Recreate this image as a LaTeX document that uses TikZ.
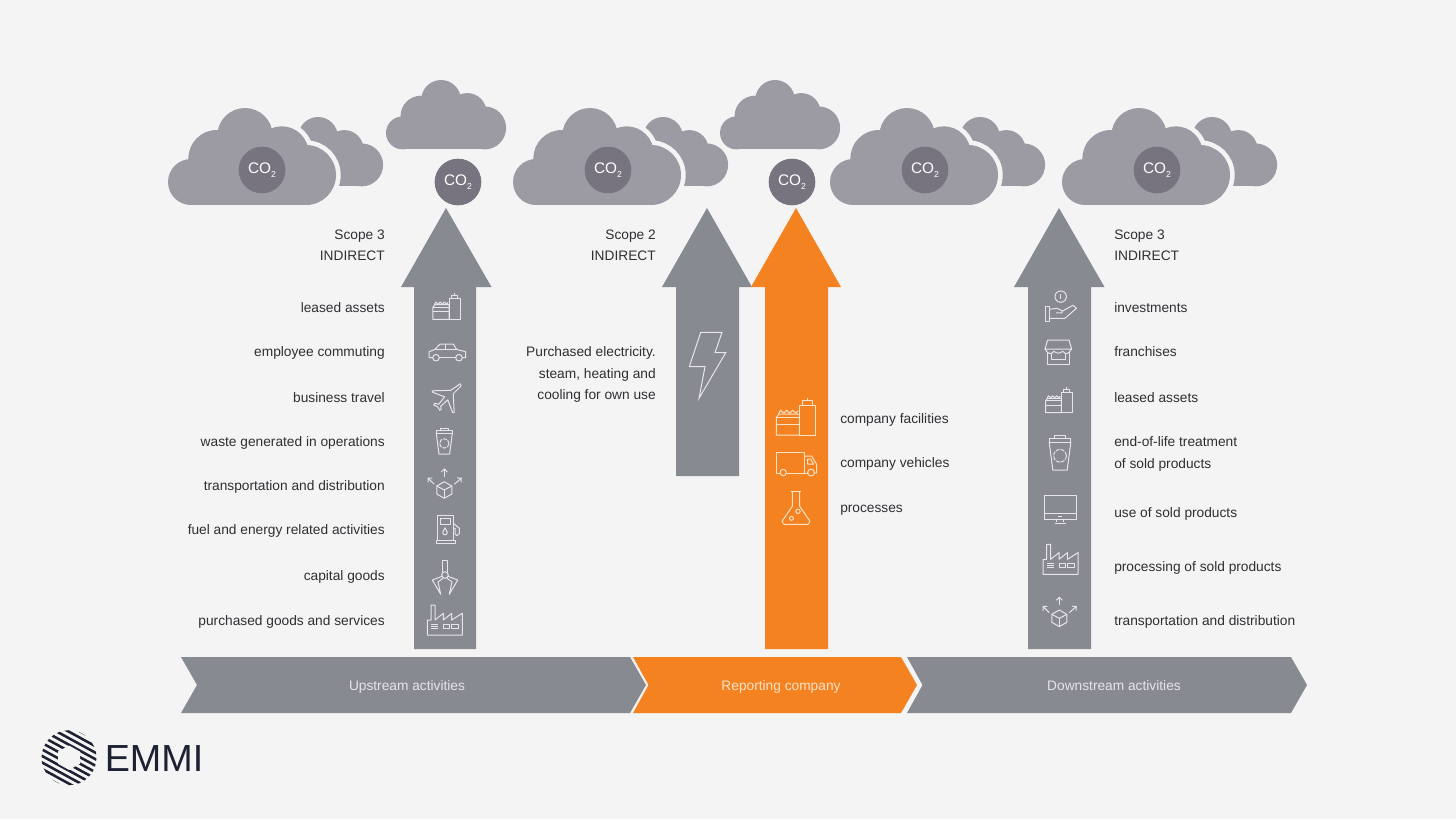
\documentclass[tikz,border=0pt]{standalone}
\usepackage{fontspec}
\setmainfont{Liberation Sans}
\usetikzlibrary{arrows.meta,calc}
\definecolor{bgc}{HTML}{F4F4F4}
\definecolor{arrowgrey}{HTML}{878A91}
\definecolor{cloudc}{HTML}{9C9AA2}
\definecolor{coc}{HTML}{777480}
\definecolor{orangec}{HTML}{F58220}
\definecolor{textc}{HTML}{2F2F34}
\definecolor{iconc}{HTML}{E6E6EA}
\definecolor{iconoc}{HTML}{FBE3C8}
\definecolor{logoc}{HTML}{1E2133}
\tikzset{
  lbl/.style={text=textc,font=\fontsize{10.3}{12}\selectfont,inner sep=0pt,yshift=-3.75pt},
  lblr/.style={lbl,anchor=base east},
  lbll/.style={lbl,anchor=base west},
  bandlbl/.style={text=#1,font=\fontsize{10.3}{12}\selectfont,inner sep=0pt,anchor=base,yshift=-3.75pt},
  coball/.style={circle,fill=coc,minimum size=35pt,inner sep=0pt,text=white,font=\fontsize{11.5}{12}\selectfont},
}
\newcommand{\COtwo}{CO\raisebox{-2.5pt}{\fontsize{6.5}{7}\selectfont 2}}
% cloud: local 168x97 box
\newcommand{\cloudparts}[1]{%
  \path[#1] (23,74) circle[radius=23];
  \path[#1] (48.7,50.3) circle[radius=28.3];
  \path[#1] (77,27.7) circle[radius=27.7];
  \path[#1] (113.7,45.3) circle[radius=27];
  \path[#1] (138,67) circle[radius=30];
  \path[#1] (23,60) rectangle (138,97);
  \path[#1] (48.7,27) rectangle (113.7,97);
}
\newcommand{\scloud}[2]{\begin{scope}[shift={(#1,#2)},scale=.715]\cloudparts{fill=cloudc}\end{scope}}
\newcommand{\bcloud}[2]{%
  \scloud{#1+95}{#2+9}
  \begin{scope}[shift={(#1,#2)}]\cloudparts{draw=bgc,line width=7pt}\cloudparts{fill=cloudc}\end{scope}}
\newcommand{\icstart}[4]{\begin{scope}[shift={(#1,#2)},scale=#3,color=#4,line width=.75pt,line join=round]}
% icons
\newcommand{\icFac}[4]{\icstart{#1}{#2}{#3}{#4}
  \draw (-19.7,1) -- (-17,-2.7) -- (3.3,-2.7) -- (3.3,18.3) -- (-19.7,18.3) -- cycle;
  \draw (-19.7,1) -- (3.3,1);
  \draw (-19.7,7.3) -- (3.3,7.3);
  \draw (-17.5,-3) -- (-15.5,-6.5) -- (-12,-3.5) -- (-9.5,-6.5) -- (-6,-3.5) -- (-3.5,-6.5) -- (0,-3.5) -- (2,-6);
  \draw (3.3,-11) rectangle (19.7,18.3);
  \draw (6.7,-11) -- (6.7,-16) -- (16,-16) -- (16,-11);
  \draw (11.7,-16) -- (11.7,-19);
\end{scope}}
\newcommand{\icTruck}[4]{\icstart{#1}{#2}{#3}{#4}
  \draw (-16.5,10) -- (-20,10) -- (-20,-10.7) -- (8.3,-10.7) -- (8.3,10) -- (-10,10);
  \draw (8.3,-7) -- (15,-7) -- (20,1) -- (20,10) -- (18,10);
  \draw (8.3,10) -- (11,10);
  \draw (11,-4) -- (14,-4) -- (17,1) -- (11,1) -- cycle;
  \draw (-13.3,9.5) circle[radius=3.2];
  \draw (14.5,9.5) circle[radius=3.4];
\end{scope}}
\newcommand{\icFlask}[4]{\icstart{#1}{#2}{#3}{#4}
  \draw (-5.3,-16.7) -- (5.3,-16.7);
  \draw (-3.7,-16.7) -- (-3.7,-2) -- (-14,13) -- (-12,16) -- (12,16) -- (14,13) -- (3.7,-2) -- (3.7,-16.7);
  \draw (-4.5,10) circle[radius=2];
  \draw (2,3) circle[radius=2.2];
\end{scope}}
\newcommand{\icCar}[4]{\icstart{#1}{#2}{#3}{#4}
  \draw (-14.5,6) -- (-18.3,6) -- (-18.3,0) -- (-12.3,-2.3) -- (-7.3,-7.7) -- (6,-7.7) -- (9.3,-2.3) -- (18.3,0) -- (18.3,6) -- (15,6);
  \draw (-8,6) -- (8.4,6);
  \draw (-12.3,-2.3) -- (9.3,-2.3);
  \draw (-1.7,-7.7) -- (-1.7,-2.3);
  \draw (-11.3,6) circle[radius=3.3];
  \draw (11.7,6) circle[radius=3.3];
\end{scope}}
\newcommand{\icPlane}[4]{\icstart{#1}{#2}{#3}{#4}
  \draw (13.5,-14.5) -- (4,-8) -- (-14.5,-7.5) -- (-14,-6) -- (-2,-1.5) -- (-8,6) -- (-12,5) -- (-13,6.5) -- (-9,8.5) -- (-7,12) -- (-5.5,11) -- (-6,8) -- (1,1.5) -- (6,14.5) -- (7.5,14) -- (6.5,-4.5) -- (14.5,-12.5) -- cycle;
\end{scope}}
\newcommand{\icBin}[4]{\icstart{#1}{#2}{#3}{#4}
  \draw (-8,-11) rectangle (8,-8.3);
  \draw (-4,-11) -- (-4,-13) -- (4,-13) -- (4,-11);
  \draw (-8,-8.3) -- (-5.3,12.3) -- (5.3,12.3) -- (8,-8.3);
  \draw[dash pattern=on 3pt off .8pt] (0,1.7) circle[radius=4.7];
\end{scope}}
\newcommand{\icBox}[4]{\icstart{#1}{#2}{#3}{#4}
  \draw (0,-8.3) -- (7.5,-4) -- (7.5,4) -- (0,8.3) -- (-7.5,4) -- (-7.5,-4) -- cycle;
  \draw (-7.5,-4) -- (0,0) -- (7.5,-4);
  \draw (0,0) -- (0,8.3);
  \draw[-{Straight Barb[length=2.2pt,width=4.5pt]}] (0,-13.3) -- (0,-21.7);
  \draw[-{Straight Barb[length=2.2pt,width=4.5pt]}] (-10,-5.7) -- (-16.7,-12.3);
  \draw[-{Straight Barb[length=2.2pt,width=4.5pt]}] (10,-5.7) -- (17.5,-12.3);
\end{scope}}
\newcommand{\icPump}[4]{\icstart{#1}{#2}{#3}{#4}
  \draw (-9.3,10.7) -- (-9.3,-13.7) -- (6.7,-13.7) -- (6.7,10.7);
  \draw (-10.7,10.7) rectangle (8.3,14);
  \draw (-6.7,-11) rectangle (3.3,-5);
  \draw (-1.7,-1.5) -- (-4,3) -- (-3,5.2) -- (-.4,5.2) -- (.6,3) -- cycle;
  \draw (6.7,-6) -- (12.7,-1) -- (12.7,4) -- (10.5,6.3) -- (8.5,5) -- (8.5,-1) -- (6.7,-1);
\end{scope}}
\newcommand{\icClaw}[4]{\icstart{#1}{#2}{#3}{#4}
  \draw (-2.3,-5.5) -- (-2.3,-16.7) -- (2.3,-16.7) -- (2.3,-5.5);
  \draw (0,-2.3) circle[radius=3.3];
  \draw (-3,-1) -- (-12.7,2.7) -- (-4.3,17) -- (-7,4.5) -- (-2,1);
  \draw (3,-1) -- (12.7,2.7) -- (4.3,17) -- (7,4.5) -- (2,1);
\end{scope}}
\newcommand{\icFactory}[4]{\icstart{#1}{#2}{#3}{#4}
  \draw (-17.7,0) -- (-14,0) -- (-14,-15) -- (-10,-15) -- (-10,0) -- (-1.7,-6.7) -- (-1.7,0) -- (6.7,-6.7) -- (6.7,0) -- (17.3,-6.7) -- (17.3,15) -- (-17.7,15) -- cycle;
  \draw (-14,4.3) -- (-6.7,4.3);
  \draw (-14,6.3) -- (-6.7,6.3);
  \draw (-14,8.3) -- (-6.7,8.3);
  \draw (-1.7,4.3) rectangle (4.3,8.3);
  \draw (6.7,4.3) rectangle (13.3,8.3);
\end{scope}}
\newcommand{\icHand}[4]{\icstart{#1}{#2}{#3}{#4}
  \draw (.7,-11.7) circle[radius=5.7];
  \draw (.7,-14) -- (.7,-9.5);
  \draw (-15,-1.7) rectangle (-11,12.7);
  \draw (-11,1) -- (-3,0) -- (2,2.5) -- (2,4.5) -- (-4,4.5);
  \draw (2,3) -- (13,-3) -- (16.5,0) -- (5,10) -- (-11,10);
\end{scope}}
\newcommand{\icShop}[4]{\icstart{#1}{#2}{#3}{#4}
  \draw (-10.7,-11.7) -- (10.7,-11.7) -- (13.3,-2.7) -- (-13.3,-2.7) -- cycle;
  \draw (-13.3,-2.7) .. controls (-10,3) and (-7,3) .. (-4.4,-.5) .. controls (-2,2) and (2,2) .. (4.4,-.5) .. controls (7,3) and (10,3) .. (13.3,-2.7);
  \draw (-11,0) -- (-11,12.3) -- (11,12.3) -- (11,0);
  \draw (-6.7,1.7) -- (-6.7,7.3) -- (6.7,7.3) -- (6.7,1.7);
\end{scope}}
\newcommand{\icMon}[4]{\icstart{#1}{#2}{#3}{#4}
  \draw (-16,-13.7) rectangle (16,10);
  \draw (-16,4) -- (16,4);
  \draw (-2,7) -- (2,7);
  \draw (-3.5,10) -- (-3.5,13) (3.5,10) -- (3.5,13);
  \draw (-5.5,14) -- (5.5,14);
\end{scope}}
\begin{document}
\begin{tikzpicture}[x=0.75pt,y=-0.75pt]
\useasboundingbox (0,0) rectangle (1456,819);
\fill[bgc] (0,0) rectangle (1456,819);
% clouds
\bcloud{168}{108}
\bcloud{513}{108}
\bcloud{830}{108}
\bcloud{1062}{108}
\scloud{386}{80}
\scloud{720}{80}
% CO2
\node[coball] (co1) at (262,170) {\COtwo};
\node[coball] (co2) at (458,182) {\COtwo};
\node[coball] (co3) at (608,170) {\COtwo};
\node[coball] (co4) at (792,182) {\COtwo};
\node[coball] (co5) at (925,170) {\COtwo};
\node[coball] (co6) at (1157,170) {\COtwo};
% arrows
\fill[arrowgrey] (446,208) -- (491.5,287) -- (476,287) -- (476,649) -- (414,649) -- (414,287) -- (401,287) -- cycle;
\fill[arrowgrey] (707,208) -- (752,287) -- (739,287) -- (739,476) -- (676,476) -- (676,287) -- (662,287) -- cycle;
\fill[orangec] (796,208) -- (841,287) -- (828,287) -- (828,649) -- (765,649) -- (765,287) -- (751,287) -- cycle;
\fill[arrowgrey] (1059,208) -- (1104.5,287) -- (1091,287) -- (1091,649) -- (1028,649) -- (1028,287) -- (1014,287) -- cycle;
% bands
\fill[arrowgrey] (181,657) -- (630,657) -- (646,685) -- (630,713) -- (181,713) -- (197,685) -- cycle;
\fill[orangec] (633,657) -- (901,657) -- (917,685) -- (901,713) -- (633,713) -- (648.5,685) -- cycle;
\fill[arrowgrey] (907,657) -- (1291,657) -- (1307,685) -- (1291,713) -- (907,713) -- (922.5,685) -- cycle;
\node[bandlbl=iconc] (b1) at (407,685.5) {Upstream activities};
\node[bandlbl=iconoc] (b2) at (781,685.5) {Reporting company};
\node[bandlbl=iconc] (b3) at (1114,685.5) {Downstream activities};
% left labels
\node[lblr] (l1) at (385,234) {Scope 3};
\node[lblr] (l2) at (385,255) {INDIRECT};
\node[lblr] (l3) at (385,307.5) {leased assets};
\node[lblr] (l4) at (385,351.5) {employee commuting};
\node[lblr] (l5) at (385,397) {business travel};
\node[lblr] (l6) at (385,441.5) {waste generated in operations};
\node[lblr] (l7) at (385,485.5) {transportation and distribution};
\node[lblr] (l8) at (385,529.5) {fuel and energy related activities};
\node[lblr] (l9) at (385,575) {capital goods};
\node[lblr] (l10) at (385,620.5) {purchased goods and services};
% scope 2
\node[lblr] (m1) at (656,234) {Scope 2};
\node[lblr] (m2) at (656,255) {INDIRECT};
\node[lblr] (m3) at (656,351.5) {Purchased electricity.};
\node[lblr] (m4) at (656,373) {steam, heating and};
\node[lblr] (m5) at (656,394) {cooling for own use};
% orange
\node[lbll] (o1) at (840,418) {company facilities};
\node[lbll] (o2) at (840,462) {company vehicles};
\node[lbll] (o3) at (840,507.5) {processes};
% right
\node[lbll] (r1) at (1114,234) {Scope 3};
\node[lbll] (r2) at (1114,255) {INDIRECT};
\node[lbll] (r3) at (1114,307.5) {investments};
\node[lbll] (r4) at (1114,351.5) {franchises};
\node[lbll] (r5) at (1114,397) {leased assets};
\node[lbll] (r6) at (1114,441.5) {end-of-life treatment};
\node[lbll] (r7) at (1114,463) {of sold products};
\node[lbll] (r8) at (1114,512.5) {use of sold products};
\node[lbll] (r9) at (1114,566) {processing of sold products};
\node[lbll] (r10) at (1114,620.5) {transportation and distribution};
% icons left
\icFac{446.7}{306.6}{.7}{iconc}
\icCar{447.3}{351.7}{1}{iconc}
\icPlane{446.7}{398.3}{1}{iconc}
\icBin{444.3}{441.7}{1}{iconc}
\icBox{444.3}{490}{1}{iconc}
\icPump{446.7}{529.3}{1}{iconc}
\icClaw{445}{577.3}{1}{iconc}
\icFactory{445}{620}{1}{iconc}
% bolt
\draw[iconc,line width=.75pt,line join=miter] (700.7,332.3) -- (722,332.3) -- (715,352.7) -- (725.7,352.7) -- (699,398.3) -- (705,366.7) -- (689.3,366.7) -- cycle;
% orange icons
\icFac{796}{416.7}{1}{iconoc}
\icTruck{796.5}{463}{1}{iconoc}
\icFlask{796}{508.3}{1}{iconoc}
% icons right
\icHand{1060}{308.3}{1}{iconc}
\icShop{1058.3}{351.7}{1}{iconc}
\icFac{1059}{400.2}{.68}{iconc}
\icBin{1060}{453.5}{1.35}{iconc}
\icMon{1060}{509.3}{1}{iconc}
\icFactory{1060.7}{559.3}{1}{iconc}
\icBox{1059.3}{618.3}{1}{iconc}
% logo
\begin{scope}
  \clip (69,757.7) circle[radius=27.5];
  \foreach \k in {-5,...,5}{
    \draw[logoc,line width=1.9pt] ($(69,757.7)+(-\k*2.73,\k*5)+(-32,-17.5)$) -- ($(69,757.7)+(-\k*2.73,\k*5)+(32,17.5)$);
  }
\end{scope}
\fill[bgc] (69,745.5) -- (80,751.6) -- (80,763.8) -- (69,769.9) -- (58,763.8) -- (58,751.6) -- cycle;
\node[text=logoc,font=\fontsize{28.3}{30}\selectfont,inner sep=0pt,anchor=base west] (logo) at (104.5,771) {EMMI};
\end{tikzpicture}
\end{document}
